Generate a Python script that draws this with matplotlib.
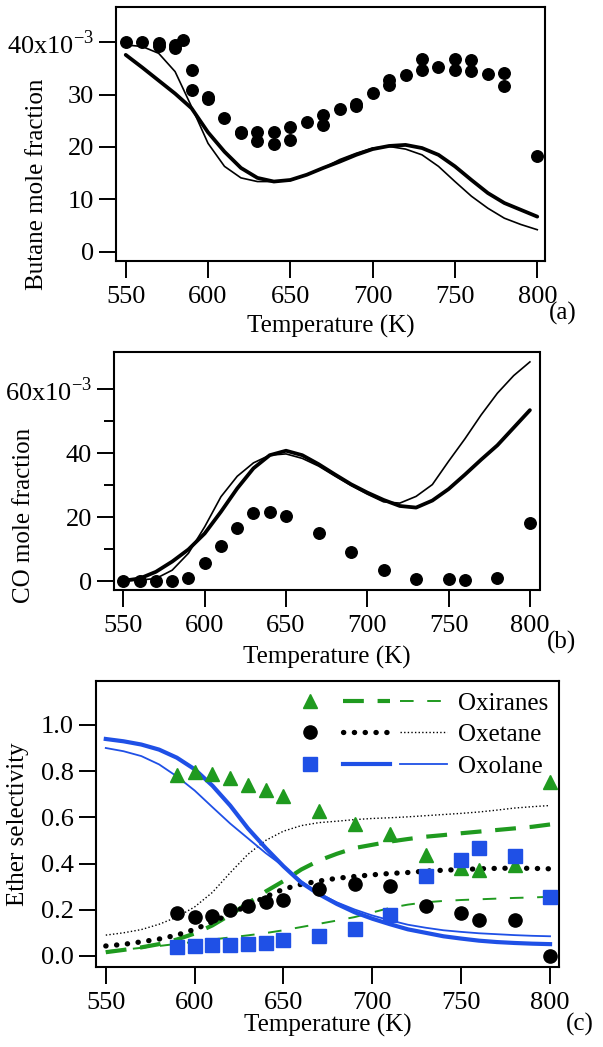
import matplotlib
matplotlib.use("Agg")
import matplotlib.pyplot as plt
from matplotlib.lines import Line2D
from matplotlib.legend_handler import HandlerTuple
from matplotlib.ticker import FixedLocator, FixedFormatter

plt.rcParams['font.family'] = ['Liberation Serif', 'DejaVu Serif']
plt.rcParams['mathtext.fontset'] = 'custom'
plt.rcParams['mathtext.rm'] = 'Liberation Serif'

# ---------------- data ----------------
T_model = [550, 560, 570, 580, 590, 600, 610, 620, 630, 640, 650, 660, 670,
           680, 690, 700, 710, 720, 730, 740, 750, 760, 770, 780, 790, 800]

# (a) butane mole fraction (x10^-3)
T_a_exp = [550, 560, 570, 570, 580, 580, 585, 590, 590, 600, 600, 610, 620, 620,
           630, 630, 640, 640, 650, 650, 660, 670, 670, 680, 690, 690, 700, 710,
           710, 720, 730, 730, 740, 750, 750, 760, 760, 770, 780, 780, 800]
butane_exp = [40.0, 40.0, 39.8, 39.3, 39.5, 38.9, 40.5, 34.7, 30.8, 29.6, 29.2,
              25.5, 22.9, 22.6, 22.8, 21.1, 22.8, 20.6, 23.8, 21.4, 24.7, 26.1,
              24.2, 27.2, 28.2, 27.9, 30.3, 32.8, 31.9, 33.8, 36.8, 34.7, 35.2,
              36.8, 34.7, 36.6, 34.5, 33.9, 34.2, 31.7, 18.2]
butane_model1 = [37.6, 35.2, 32.7, 30.2, 27.4, 22.8, 19.1, 16.0, 14.1, 13.4,
                 13.7, 14.7, 16.0, 17.2, 18.5, 19.6, 20.2, 20.4, 19.8, 18.5,
                 16.3, 13.7, 11.2, 9.3, 8.0, 6.7]
butane_model2 = [39.5, 39.2, 37.9, 34.4, 27.7, 20.7, 16.3, 14.1, 13.4, 13.4,
                 13.6, 14.7, 16.0, 17.6, 18.8, 19.8, 20.1, 19.6, 18.5, 16.3,
                 13.4, 10.6, 8.3, 6.4, 5.2, 4.2]

# (b) CO mole fraction (x10^-3)
T_b_exp = [550, 560, 570, 580, 590, 600, 610, 620, 630, 640, 650, 670, 690,
           710, 730, 750, 760, 780, 800]
co_exp = [0.0, 0.0, 0.0, 0.0, 1.1, 5.8, 11.1, 16.5, 21.2, 21.6, 20.5, 14.9,
          9.0, 3.5, 0.6, 0.5, 0.3, 1.1, 18.3]
co_model1 = [0.1, 0.8, 2.9, 6.1, 9.9, 14.9, 21.7, 29.0, 35.3, 39.4, 40.8, 39.4,
             36.6, 33.4, 30.3, 27.7, 25.4, 23.5, 23.0, 25.2, 28.8, 33.3, 38.0,
             42.5, 48.0, 53.5]
co_model2 = [0.1, 0.3, 0.8, 3.4, 8.7, 17.0, 26.4, 32.8, 37.0, 39.4, 39.8, 38.4,
             36.0, 32.9, 29.9, 27.2, 24.8, 24.4, 26.5, 30.2, 37.5, 44.5, 52.0,
             58.8, 64.3, 68.6]

# (c) ether selectivity
T_c_exp = [590, 600, 610, 620, 630, 640, 650, 670, 690, 710, 730, 750, 760, 780, 800]
oxiranes_exp = [0.782, 0.794, 0.787, 0.768, 0.740, 0.720, 0.691, 0.626, 0.569,
                0.526, 0.435, 0.380, 0.370, 0.395, 0.754]
oxetane_exp = [0.185, 0.168, 0.174, 0.199, 0.218, 0.232, 0.242, 0.289, 0.313,
               0.303, 0.218, 0.186, 0.156, 0.156, 0.0]
oxolane_exp = [0.040, 0.043, 0.046, 0.046, 0.053, 0.057, 0.068, 0.088, 0.118,
               0.178, 0.346, 0.415, 0.467, 0.434, 0.253]

oxiranes_model1 = [0.016, 0.026, 0.037, 0.051, 0.071, 0.097, 0.132, 0.178, 0.228,
                   0.279, 0.324, 0.374, 0.413, 0.442, 0.467, 0.481, 0.495, 0.506,
                   0.516, 0.523, 0.531, 0.538, 0.545, 0.552, 0.559, 0.569]
oxiranes_model2 = [0.020, 0.027, 0.035, 0.043, 0.052, 0.061, 0.071, 0.080, 0.089,
                   0.099, 0.111, 0.125, 0.139, 0.153, 0.168, 0.188, 0.208, 0.222,
                   0.232, 0.238, 0.242, 0.245, 0.248, 0.251, 0.253, 0.256]
oxetane_model1 = [0.043, 0.050, 0.061, 0.073, 0.090, 0.115, 0.147, 0.182, 0.218,
                  0.256, 0.289, 0.310, 0.324, 0.336, 0.344, 0.351, 0.357, 0.361,
                  0.367, 0.371, 0.374, 0.377, 0.379, 0.380, 0.379, 0.377]
oxetane_model2 = [0.090, 0.100, 0.114, 0.137, 0.168, 0.212, 0.275, 0.360, 0.440,
                  0.500, 0.540, 0.564, 0.577, 0.583, 0.590, 0.595, 0.598, 0.602,
                  0.607, 0.612, 0.617, 0.623, 0.631, 0.640, 0.646, 0.651]
oxolane_model1 = [0.939, 0.929, 0.915, 0.893, 0.858, 0.808, 0.737, 0.651, 0.552,
                  0.467, 0.388, 0.317, 0.267, 0.225, 0.189, 0.161, 0.137, 0.115,
                  0.100, 0.085, 0.075, 0.066, 0.060, 0.056, 0.053, 0.051]
oxolane_model2 = [0.900, 0.886, 0.865, 0.829, 0.777, 0.716, 0.644, 0.573, 0.509,
                  0.445, 0.388, 0.324, 0.270, 0.232, 0.201, 0.175, 0.154, 0.135,
                  0.122, 0.111, 0.104, 0.098, 0.094, 0.090, 0.087, 0.085]

x_ticks = [550, 600, 650, 700, 750, 800]
species_labels = ["Oxiranes", "Oxetane", "Oxolane"]

GREEN = '#1f9a1f'
BLUE = '#1f50e6'
FS = 18
TFS = 19

# ---------------- figure ----------------
W, H = 603, 1047
fig = plt.figure(figsize=(W / 100, H / 100), dpi=100)


def add_ax(l, r, t, b):
    return fig.add_axes([l / W, 1 - b / H, (r - l) / W, (b - t) / H])


def style(ax):
    for s in ax.spines.values():
        s.set_linewidth(1.5)
    ax.tick_params(which='both', direction='out', top=False, right=False,
                   labelsize=TFS, width=1.4)
    ax.tick_params(which='major', length=12)
    ax.tick_params(which='minor', length=7)
    ax.tick_params(axis='y', pad=4)
    ax.tick_params(axis='x', pad=6)
    ax.xaxis.set_major_locator(FixedLocator(x_ticks))


ax_a = add_ax(116, 545, 6.7, 260.7)
ax_b = add_ax(114.3, 539.5, 352, 590)
ax_c = add_ax(96, 559.3, 681, 967)

# (a)
style(ax_a)
ax_a.plot(T_model, butane_model1, color='black', lw=2.7, solid_capstyle='round',
          solid_joinstyle='round')
ax_a.plot(T_model, butane_model2, color='black', lw=1.2)
ax_a.plot(T_a_exp, butane_exp, 'o', color='black', ms=8.3, zorder=3)
ax_a.set_xlim(544.1, 804.7)
ax_a.set_ylim(-1.72, 46.8)
ax_a.yaxis.set_major_locator(FixedLocator([0, 10, 20, 30, 40]))
ax_a.yaxis.set_major_formatter(FixedFormatter(
    ['0', '10', '20', '30', r'40x10$^{\mathregular{-3}}$']))
ax_a.set_ylabel('Butane mole fraction', fontsize=FS)
ax_a.yaxis.set_label_coords(-0.158, 0.30)
ax_a.set_xlabel('Temperature (K)', fontsize=FS)
ax_a.xaxis.set_label_coords(0.5, -0.214)

# (b)
style(ax_b)
ax_b.plot(T_model, co_model1, color='black', lw=2.7, solid_capstyle='round',
          solid_joinstyle='round')
ax_b.plot(T_model, co_model2, color='black', lw=1.2)
ax_b.plot(T_b_exp, co_exp, 'o', color='black', ms=8.3, zorder=3)
ax_b.set_xlim(544.4, 805.9)
ax_b.set_ylim(-2.8, 71.7)
ax_b.yaxis.set_major_locator(FixedLocator([0, 20, 40, 60]))
ax_b.yaxis.set_major_formatter(FixedFormatter(
    ['0', '20', '40', r'60x10$^{\mathregular{-3}}$']))
ax_b.yaxis.set_minor_locator(FixedLocator([10, 30, 50]))
ax_b.set_ylabel('CO mole fraction', fontsize=FS)
ax_b.yaxis.set_label_coords(-0.186, 0.315)
ax_b.set_xlabel('Temperature (K)', fontsize=FS)
ax_b.xaxis.set_label_coords(0.5, -0.235)

# (c)
style(ax_c)
dot_thick = dict(color='black', lw=3.8, linestyle=(0, (0.05, 2.0)),
                 dash_capstyle='round')
dot_thin = dict(color='black', lw=1.0, linestyle=(0, (1, 1.6)))
gr_thick = dict(color=GREEN, lw=3.0, linestyle=(0, (5, 3.3)))
gr_thin = dict(color=GREEN, lw=1.4, linestyle=(0, (7, 7)))
bl_thick = dict(color=BLUE, lw=3.0)
bl_thin = dict(color=BLUE, lw=1.3)

ax_c.plot(T_model, oxiranes_model1, **gr_thick)
ax_c.plot(T_model, oxiranes_model2, **gr_thin)
ax_c.plot(T_model, oxetane_model1, **dot_thick)
ax_c.plot(T_model, oxetane_model2, **dot_thin)
ax_c.plot(T_model, oxolane_model1, **bl_thick)
ax_c.plot(T_model, oxolane_model2, **bl_thin)
ax_c.plot(T_c_exp, oxiranes_exp, '^', color=GREEN, ms=10, zorder=3)
ax_c.plot(T_c_exp, oxetane_exp, 'o', color='black', ms=9.5, zorder=3)
ax_c.plot(T_c_exp, oxolane_exp, 's', color=BLUE, ms=9.5, zorder=3)
ax_c.set_xlim(544.5, 805.2)
ax_c.set_ylim(-0.048, 1.19)
ax_c.yaxis.set_major_locator(FixedLocator([0, 0.2, 0.4, 0.6, 0.8, 1.0]))
ax_c.yaxis.set_major_formatter(FixedFormatter(['0.0', '0.2', '0.4', '0.6', '0.8', '1.0']))
ax_c.set_ylabel('Ether selectivity', fontsize=FS)
ax_c.yaxis.set_label_coords(-0.145, 0.5)
ax_c.set_xlabel('Temperature (K)', fontsize=FS)
ax_c.xaxis.set_label_coords(0.5, -0.164)

h_ox = (Line2D([], [], marker='^', color=GREEN, ls='none', ms=10),
        Line2D([], [], **gr_thick), Line2D([], [], **gr_thin))
h_oe = (Line2D([], [], marker='o', color='black', ls='none', ms=9.5),
        Line2D([], [], **dot_thick), Line2D([], [], **dot_thin))
h_ol = (Line2D([], [], marker='s', color=BLUE, ls='none', ms=9.5),
        Line2D([], [], **bl_thick), Line2D([], [], **bl_thin))
leg = ax_c.legend([h_ox, h_oe, h_ol], species_labels,
                  handler_map={tuple: HandlerTuple(ndivide=3, pad=0.4)},
                  loc='upper right', bbox_to_anchor=(1.014, 1.022), frameon=False,
                  fontsize=FS, handlelength=6.4, handletextpad=0.45,
                  labelspacing=0.36, borderaxespad=0.3)

fig.text(563 / W, 1 - 313 / H, '(a)', ha='center', va='center', fontsize=FS)
fig.text(562 / W, 1 - 642 / H, '(b)', ha='center', va='center', fontsize=FS)
fig.text(580 / W, 1 - 1024 / H, '(c)', ha='center', va='center', fontsize=FS)

fig.savefig('out.png', dpi=100)
